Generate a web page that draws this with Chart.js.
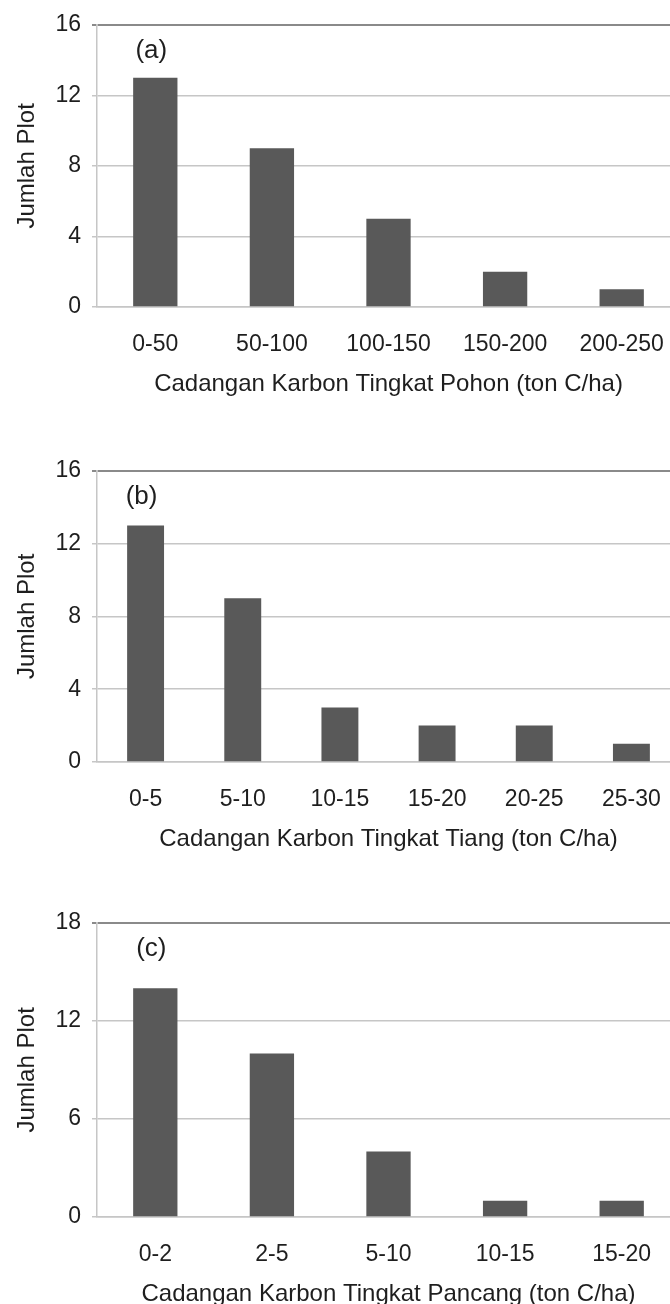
<!DOCTYPE html>
<html>
<head>
<meta charset="utf-8">
<title>Cadangan Karbon</title>
<script src="https://cdn.jsdelivr.net/npm/chart.js@4.4.1/dist/chart.umd.min.js"></script>
<style>
  html, body { margin: 0; padding: 0; background: #fff; overflow: hidden; width: 670px; height: 1304px; }
  .panel { position: absolute; left: 0; width: 680px; }
</style>
</head>
<body>
<div class="panel" id="boxA"><canvas id="chartA"></canvas></div>
<div class="panel" id="boxB"><canvas id="chartB"></canvas></div>
<div class="panel" id="boxC"><canvas id="chartC"></canvas></div>
<script>
// (a) pohon
const pohonLabels = ["0-50", "50-100", "100-150", "150-200", "200-250"];
const pohonCounts = [13, 9, 5, 2, 1];
const pohonTicks = [0, 4, 8, 12, 16];

// (b) tiang
const tiangLabels = ["0-5", "5-10", "10-15", "15-20", "20-25", "25-30"];
const tiangCounts = [13, 9, 3, 2, 2, 1];
const tiangTicks = [0, 4, 8, 12, 16];

// (c) pancang
const pancangLabels = ["0-2", "2-5", "5-10", "10-15", "15-20"];
const pancangCounts = [14, 10, 4, 1, 1];
const pancangTicks = [0, 6, 12, 18];

Chart.defaults.font.family = "'Liberation Sans', Arial, sans-serif";
Chart.defaults.color = "#1e1e1e";

const GRID = "#c6c6c6";

// draws the "(a)" style tag inside the plot area
const panelTag = {
  id: "panelTag",
  afterDraw(chart, args, opts) {
    const { ctx, chartArea, scales } = chart;
    ctx.save();
    ctx.font = "26px 'Liberation Sans', Arial, sans-serif";
    ctx.fillStyle = "#1e1e1e";
    ctx.textAlign = "center";
    ctx.textBaseline = "middle";
    ctx.fillText(opts.text, scales.x.getPixelForValue(0) - 4, chartArea.top + 26);
    ctx.restore();
  },
};

function makePanel(boxId, canvasId, labels, counts, yTicks, xTitle, tag, plotTop, plotBottom) {
  const box = document.getElementById(boxId);
  box.style.top = (plotTop - 21) + "px";
  box.style.height = (plotBottom - plotTop + 21 + 92) + "px";

  const yMax = yTicks[yTicks.length - 1];
  return new Chart(document.getElementById(canvasId), {
    type: "bar",
    data: {
      labels: labels,
      datasets: [
        {
          data: counts,
          backgroundColor: "#595959",
          borderWidth: 0,
          categoryPercentage: 1,
          barPercentage: 0.38,
        },
      ],
    },
    plugins: [panelTag],
    options: {
      responsive: true,
      maintainAspectRatio: false,
      animation: false,
      layout: { padding: { top: 21, left: 0, right: 0, bottom: 0 } },
      plugins: {
        legend: { display: false },
        tooltip: { enabled: false },
        panelTag: { text: tag },
      },
      scales: {
        x: {
          grid: { display: false },
          border: { display: true, color: GRID, width: 1.5 },
          ticks: { padding: 16, color: "#1e1e1e", font: { size: 23 }, maxRotation: 0, autoSkip: false },
          title: { display: true, text: xTitle, color: "#1e1e1e", font: { size: 24 }, padding: { top: 0, bottom: 0 } },
          afterFit(scale) { scale.height = 92; },
        },
        y: {
          min: 0,
          max: yMax,
          ticks: { stepSize: yTicks[1] - yTicks[0], padding: 11, color: "#1e1e1e", font: { size: 23 } },
          grid: {
            color: (c) => (c.tick && c.tick.value === yMax ? "#8a8a8a" : GRID),
            lineWidth: (c) => (c.tick && c.tick.value === yMax ? 2 : 1.5),
            tickLength: 5,
          },
          border: { display: true, color: GRID, width: 1.5 },
          title: { display: true, text: "Jumlah Plot", color: "#1e1e1e", font: { size: 24 }, padding: { top: 13, bottom: 0 } },
          afterFit(scale) { scale.width = 97; },
        },
      },
    },
  });
}

makePanel("boxA", "chartA", pohonLabels, pohonCounts, pohonTicks,
  "Cadangan Karbon Tingkat Pohon (ton C/ha)", "(a)", 21, 307);
makePanel("boxB", "chartB", tiangLabels, tiangCounts, tiangTicks,
  "Cadangan Karbon Tingkat Tiang (ton C/ha)", "(b)", 467, 762);
makePanel("boxC", "chartC", pancangLabels, pancangCounts, pancangTicks,
  "Cadangan Karbon Tingkat Pancang (ton C/ha)", "(c)", 919, 1217);
</script>
</body>
</html>
